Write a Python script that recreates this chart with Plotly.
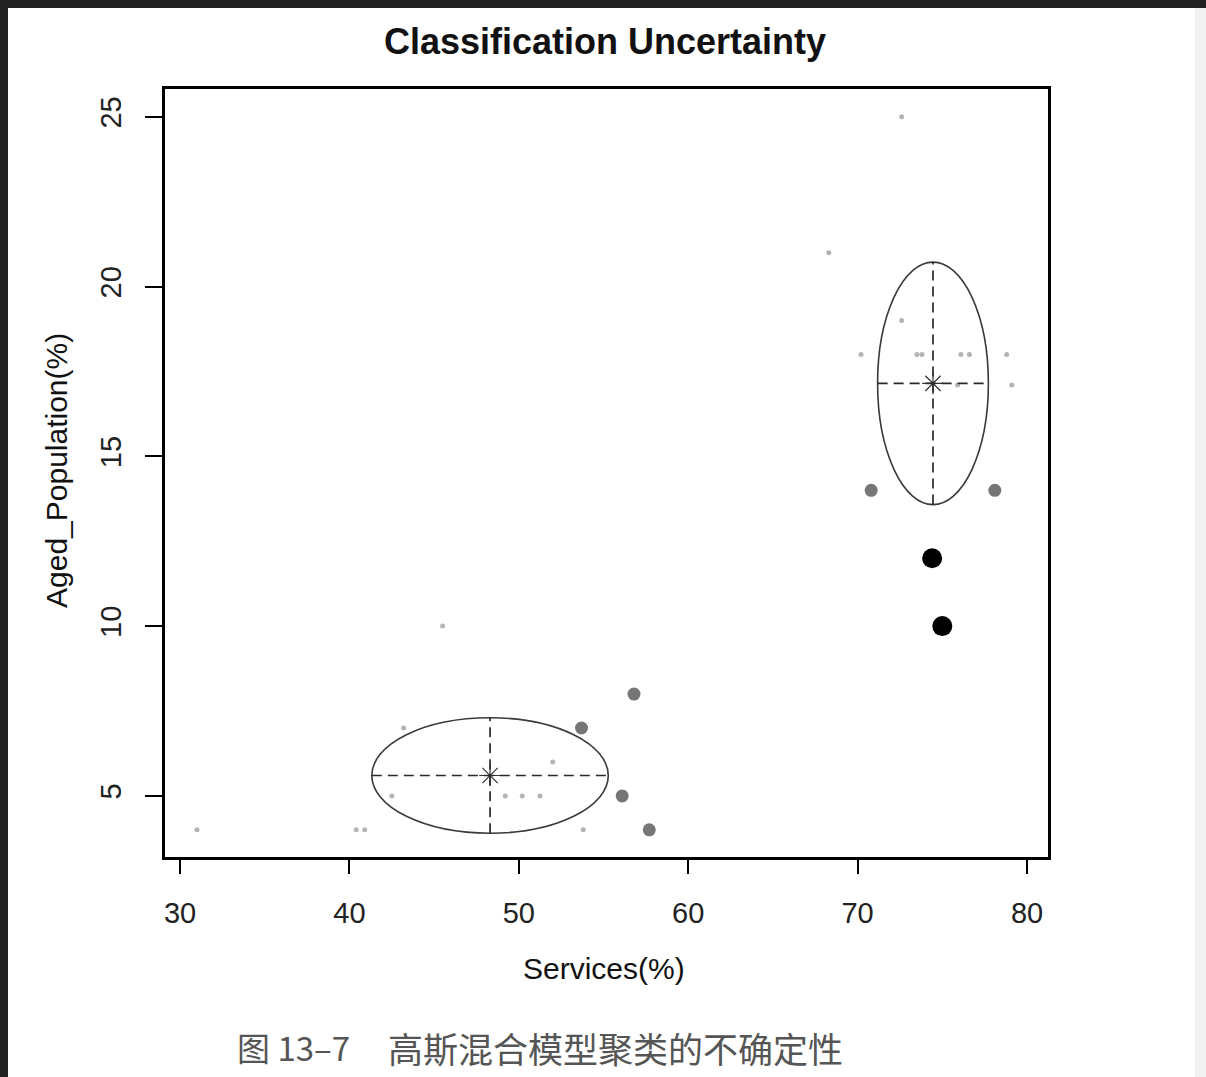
import plotly.graph_objects as go

# ---- data ----
small_x = [31.0, 40.4, 40.9, 45.5, 43.2, 42.5, 52.0, 49.2, 50.2, 51.25, 53.8,
           72.6, 68.3, 72.6, 70.2, 73.5, 73.8, 76.1, 76.6, 78.8, 75.9, 79.1]
small_y = [4, 4, 4, 10, 7, 5, 6, 5, 5, 5, 4,
           25, 21, 19, 18, 18, 18, 18, 18, 18, 17.1, 17.1]
mid_x = [53.7, 56.8, 56.1, 57.7, 70.8, 78.1]
mid_y = [7, 8, 5, 4, 14, 14]
big_x = [74.4, 75.0]
big_y = [12, 10]

centers_x = [48.3, 74.45]
centers_y = [5.6, 17.15]
semi_x = [6.98, 3.27]
semi_y = [1.70, 3.57]

x_ticks = [30, 40, 50, 60, 70, 80]
y_ticks = [5, 10, 15, 20, 25]

W, H = 1206, 1077
L, R, T, B = 165, 158, 89, 220
pw, ph = W - L - R, H - T - B

def px_x(p):
    return (p - L) / pw

def px_y(p):
    return (H - B - p) / ph

fig = go.Figure()
fig.add_trace(go.Scatter(x=small_x, y=small_y, mode="markers",
                         marker=dict(size=5, color="#b4b4b4"), showlegend=False))
fig.add_trace(go.Scatter(x=mid_x, y=mid_y, mode="markers",
                         marker=dict(size=13, color="#767676"), showlegend=False))
fig.add_trace(go.Scatter(x=big_x, y=big_y, mode="markers",
                         marker=dict(size=20, color="#000000"), showlegend=False))
fig.add_trace(go.Scatter(x=centers_x, y=centers_y, mode="markers",
                         marker=dict(size=18, symbol="asterisk-open", color="#333333",
                                     line=dict(color="#333333", width=1.2)),
                         showlegend=False))

shapes = []
for cx, cy, sx, sy in zip(centers_x, centers_y, semi_x, semi_y):
    shapes.append(dict(type="circle", xref="x", yref="y",
                       x0=cx - sx, x1=cx + sx, y0=cy - sy, y1=cy + sy,
                       line=dict(color="#3a3a3a", width=1.6)))
    shapes.append(dict(type="line", xref="x", yref="y",
                       x0=cx - sx, x1=cx + sx, y0=cy, y1=cy,
                       line=dict(color="#2a2a2a", width=1.7, dash="10px,6px")))
    shapes.append(dict(type="line", xref="x", yref="y",
                       x0=cx, x1=cx, y0=cy - sy, y1=cy + sy,
                       line=dict(color="#2a2a2a", width=1.7, dash="10px,6px")))

# dark page border (top and left) and light right edge
shapes.append(dict(type="rect", xref="paper", yref="paper", layer="above",
                   x0=px_x(0), x1=px_x(W), y0=px_y(8), y1=px_y(0),
                   fillcolor="#222222", line=dict(width=0)))
shapes.append(dict(type="rect", xref="paper", yref="paper", layer="above",
                   x0=px_x(0), x1=px_x(8), y0=px_y(H), y1=px_y(0),
                   fillcolor="#222222", line=dict(width=0)))
shapes.append(dict(type="rect", xref="paper", yref="paper", layer="below",
                   x0=px_x(1195), x1=px_x(W), y0=px_y(H), y1=px_y(8),
                   fillcolor="#f2f2f2", line=dict(width=0)))

font_family = "Liberation Sans, Arial, sans-serif"

annotations = [
    dict(text="Services(%)", x=px_x(604), y=px_y(968), xref="paper", yref="paper",
         showarrow=False, xanchor="center", yanchor="middle",
         font=dict(size=30, color="#111111", family=font_family)),
    dict(text="Aged_Population(%)", x=px_x(56), y=px_y(471), xref="paper", yref="paper",
         showarrow=False, xanchor="center", yanchor="middle", textangle=-90,
         font=dict(size=30, color="#111111", family=font_family)),
    dict(text="图 13–7", x=px_x(235), y=px_y(1047),
         xref="paper", yref="paper", showarrow=False, xanchor="left", yanchor="middle",
         font=dict(size=33, color="#555555", family="Noto Sans CJK SC")),
    dict(text="高斯混合模型聚类的不确定性", x=px_x(386), y=px_y(1047),
         xref="paper", yref="paper", showarrow=False, xanchor="left", yanchor="middle",
         font=dict(size=35, color="#555555", family="Noto Sans CJK SC")),
]

fig.update_layout(
    width=W, height=H,
    margin=dict(l=L, r=R, t=T, b=B),
    paper_bgcolor="white", plot_bgcolor="white",
    title=dict(text="<b>Classification Uncertainty</b>", x=605 / W,
               xanchor="center", y=1 - 41 / H, yanchor="middle",
               font=dict(size=36, color="#111111", family=font_family)),
    shapes=shapes, annotations=annotations,
    xaxis=dict(range=[29.11, 81.24], tickvals=x_ticks, ticks="outside", ticklen=14,
               tickwidth=1.5, tickcolor="black", showline=True, mirror=True,
               linecolor="black", linewidth=2.5, showgrid=False, zeroline=False,
               ticklabelstandoff=14,
               tickfont=dict(size=29, color="#222222", family=font_family)),
    yaxis=dict(range=[3.2, 25.82], tickvals=y_ticks, ticks="outside", ticklen=17,
               tickwidth=1.5, tickcolor="black", showline=True, mirror=True,
               linecolor="black", linewidth=2.5, showgrid=False, zeroline=False,
               tickangle=-90, ticklabelstandoff=13,
               tickfont=dict(size=29, color="#222222", family=font_family)),
)

fig.write_html("out.html", config={"displayModeBar": False},
               post_script="document.body.style.margin='0';document.body.style.overflow='hidden';")
